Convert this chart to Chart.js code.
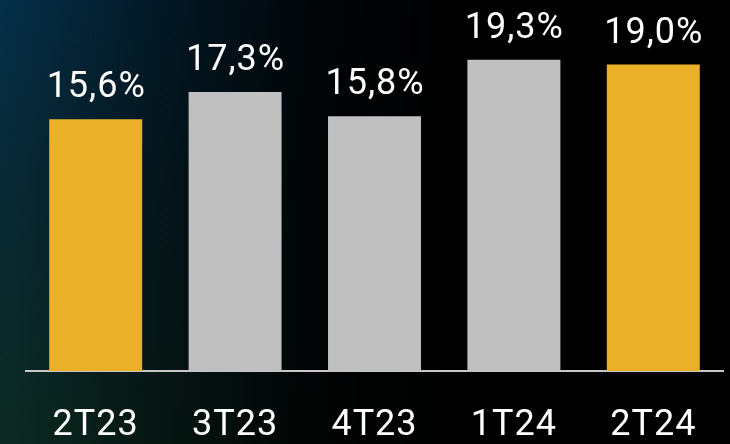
<!DOCTYPE html>
<html>
<head>
<meta charset="utf-8">
<script src="https://cdn.jsdelivr.net/npm/chart.js@4/dist/chart.umd.min.js"></script>
<style>
    html, body { margin: 0; padding: 0; }
    body {
        width: 730px; height: 444px; overflow: hidden;
        background:
            linear-gradient(to right, rgba(0,0,0,0) 0%, rgba(0,0,0,0.5) 22%, rgba(0,0,0,0.88) 42%, #000 62%),
            linear-gradient(to bottom, #05304b 0%, #082a36 40%, #0c2b22 100%);
    }
    #wrap { position: relative; width: 730px; height: 444px; }
</style>
</head>
<body>
<div id="wrap"><canvas id="chart_margin"></canvas></div>
<script>
var labels = ['2T23', '3T23', '4T23', '1T24', '2T24'];
var values = [15.6, 17.3, 15.8, 19.3, 19.0];
var barColors = ['#EAB028', '#C0C0C0', '#C0C0C0', '#C0C0C0', '#EAB028'];

var fontFamily = 'Roboto';
var fontSize = 36;
var spacing = 1;

// text in the picture is a bit spaced out
var letterSpace = {
    id: 'letterSpace',
    beforeDraw: function (chart) {
        chart.ctx.letterSpacing = spacing + 'px';
    }
};

// value labels above the bars, "15,6%" style
var valueLabels = {
    id: 'valueLabels',
    afterDatasetsDraw: function (chart) {
        var ctx = chart.ctx;
        var meta = chart.getDatasetMeta(0);
        ctx.save();
        ctx.letterSpacing = spacing + 'px';
        ctx.font = fontSize + 'px ' + fontFamily;
        ctx.fillStyle = '#ffffff';
        ctx.textAlign = 'center';
        ctx.textBaseline = 'alphabetic';
        meta.data.forEach(function (bar, i) {
            var txt = values[i].toFixed(1).replace('.', ',') + '%';
            ctx.fillText(txt, bar.x + spacing / 2, bar.y - 22);
        });
        ctx.restore();
    }
};

var ctx = document.getElementById('chart_margin').getContext('2d');
var chart = new Chart(ctx, {
    type: 'bar',
    data: {
        labels: labels,
        datasets: [{
            data: values,
            backgroundColor: barColors,
            borderWidth: 0,
            barPercentage: 0.667,
            categoryPercentage: 1
        }]
    },
    options: {
        responsive: true,
        maintainAspectRatio: false,
        animation: false,
        layout: { padding: { left: 26, right: 7, top: 0, bottom: 0 } },
        plugins: {
            legend: { display: false },
            tooltip: { enabled: false }
        },
        scales: {
            x: {
                grid: { display: false, drawTicks: false },
                border: { display: true, color: '#c8c8c8', width: 2 },
                ticks: {
                    color: '#ffffff',
                    font: { family: fontFamily, size: fontSize },
                    padding: 33,
                    maxRotation: 0
                },
                afterFit: function (scale) { scale.height = 73; }
            },
            y: {
                display: false,
                min: 0,
                max: 23
            }
        }
    },
    plugins: [letterSpace, valueLabels]
});
</script>
</body>
</html>
